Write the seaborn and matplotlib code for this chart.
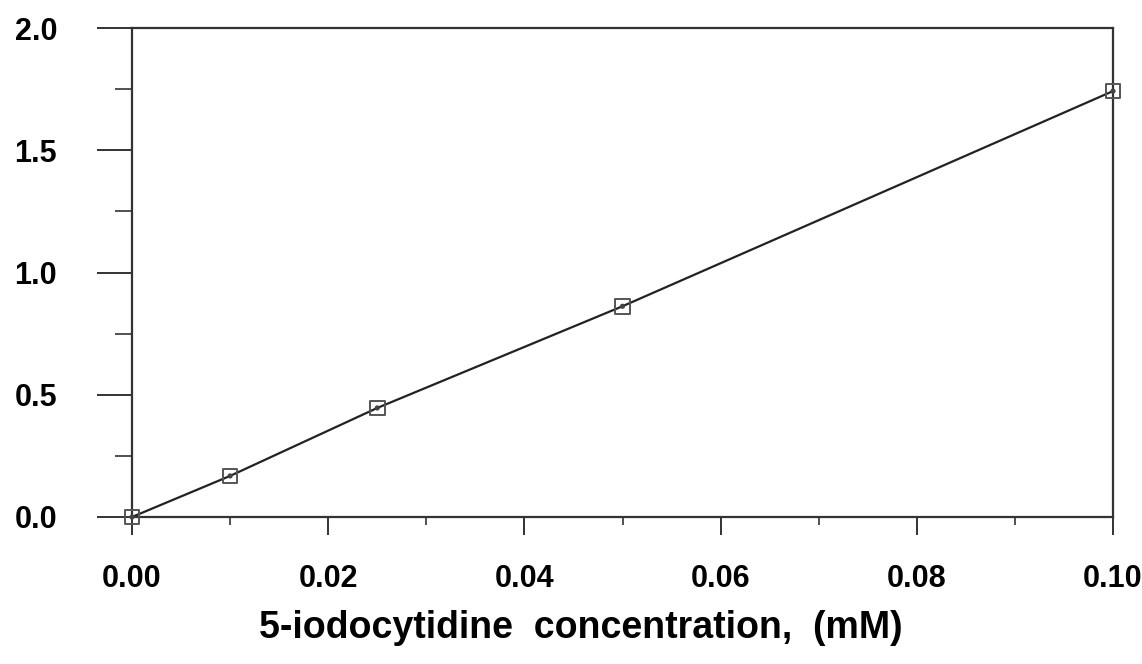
import numpy as np
import pandas as pd
import seaborn as sns
import matplotlib.pyplot as plt
from matplotlib.ticker import MultipleLocator

# concentraciones (mM) y absorbancias
conc = [0.0, 0.01, 0.025, 0.05, 0.10]
absorb = [0.0, 0.168, 0.446, 0.862, 1.742]
x_ticks = [0.00, 0.02, 0.04, 0.06, 0.08, 0.10]
x_labels = ['0.00', '0.02', '0.04', '0.06', '0.08', '0.10']
y_ticks = [0.0, 0.5, 1.0, 1.5, 2.0]
y_labels = ['0.0', '0.5', '1.0', '1.5', '2.0']

df = pd.DataFrame({'conc': conc, 'abs': absorb})

sns.set_theme(style='ticks')
plt.rcParams['font.family'] = ['Liberation Sans', 'DejaVu Sans']
plt.rcParams['text.color'] = 'black'
plt.rcParams['xtick.labelcolor'] = 'black'
plt.rcParams['ytick.labelcolor'] = 'black'
plt.rcParams['axes.labelcolor'] = 'black'

fig = plt.figure(figsize=(11.42, 6.64), dpi=100)
ax = fig.add_axes([0.1156, 0.2214, 0.859, 0.7364])

sns.lineplot(data=df, x='conc', y='abs', color='#222222', linewidth=1.6, ax=ax)
sns.scatterplot(data=df, x='conc', y='abs', marker='s', s=110, facecolor='none',
                edgecolor='#555555', linewidth=1.4, ax=ax, zorder=5, clip_on=False)
sns.scatterplot(data=df, x='conc', y='abs', marker='o', s=14, color='#444444',
                edgecolor='none', ax=ax, zorder=6, clip_on=False)

ax.set_xlim(0, 0.10)
ax.set_ylim(0, 2.0)
ax.set_xticks(x_ticks)
ax.set_xticklabels(x_labels)
ax.set_yticks(y_ticks)
ax.set_yticklabels(y_labels)
ax.xaxis.set_minor_locator(MultipleLocator(0.01))
ax.yaxis.set_minor_locator(MultipleLocator(0.25))

for s in ax.spines.values():
    s.set_linewidth(1.6)
    s.set_color('#333333')

ax.tick_params(axis='y', which='major', length=25, width=1.4, pad=29, labelsize=22, color='#333333')
ax.tick_params(axis='y', which='minor', length=12, width=1.2, color='#333333')
ax.tick_params(axis='x', which='major', length=13, width=1.4, pad=21, labelsize=22, color='#333333')
ax.tick_params(axis='x', which='minor', length=6, width=1.2, color='#333333')
for lab in ax.get_xticklabels() + ax.get_yticklabels():
    lab.set_fontweight('bold')

ax.set_xlabel('5-iodocytidine  concentration,  (mM)', fontsize=27, fontweight='bold',
              va='center')
ax.xaxis.set_label_coords(0.457, -0.228)
ax.set_ylabel('')

plt.savefig('out.png', dpi=100)
